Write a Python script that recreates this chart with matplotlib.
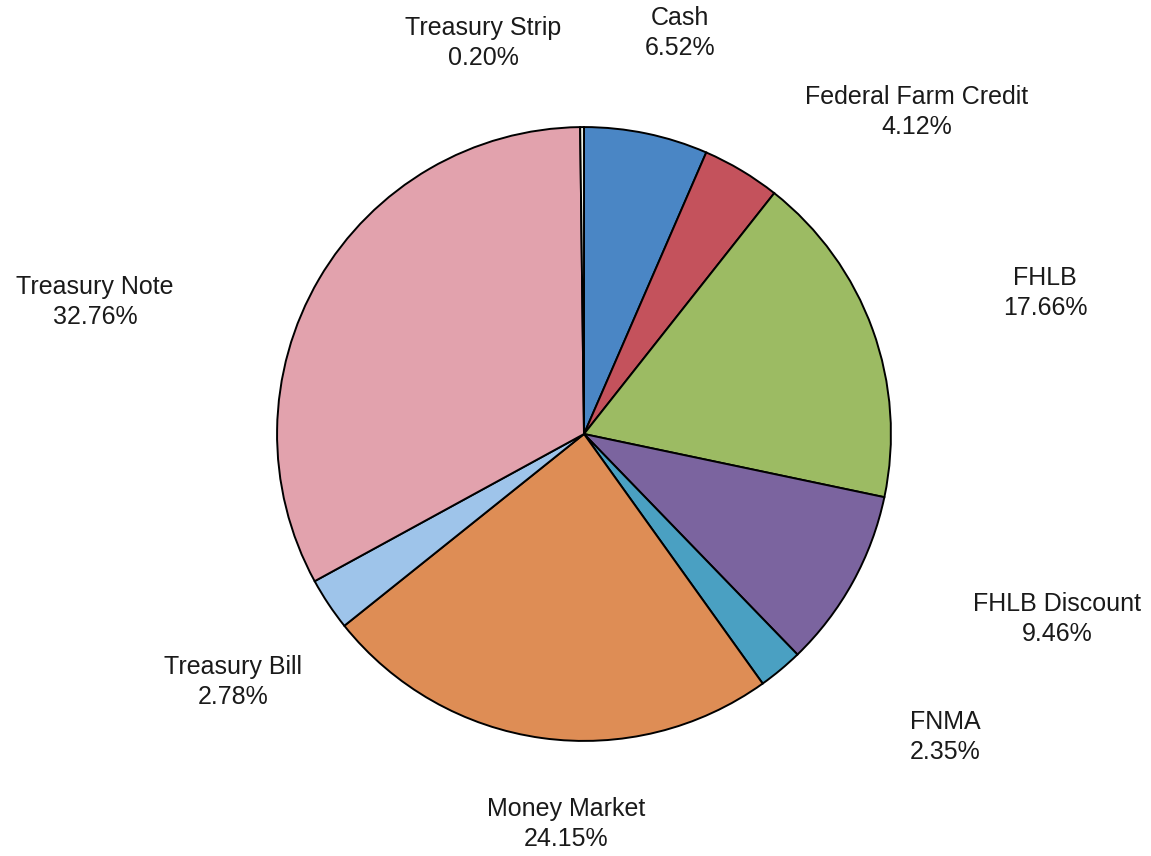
import matplotlib
matplotlib.use("Agg")
import matplotlib.pyplot as plt

# data
labels = ["Cash", "Federal Farm Credit", "FHLB", "FHLB Discount", "FNMA",
          "Money Market", "Treasury Bill", "Treasury Note", "Treasury Strip"]
values = [6.52, 4.12, 17.66, 9.46, 2.35, 24.15, 2.78, 32.76, 0.20]
colors = ["#4a86c5", "#c4525c", "#9cbb63", "#7b649f", "#4aa0c2",
          "#de8d55", "#9ec4ea", "#e2a2ad", "#eef3e6"]

# label centres in pixels (x, y from top)
label_px = [(680, 33), (917, 112), (1045, 293), (1057, 619), (945, 737),
            (566, 824), (233, 682), (95, 302), (483, 43)]

W, H = 1151, 856
plt.rcParams['font.family'] = ['Liberation Sans', 'DejaVu Sans']

fig = plt.figure(figsize=(W / 100, H / 100), dpi=100)
cx, cy, r = 584, 434, 310
ax = fig.add_axes([(cx - r) / W, (H - cy - r) / H, 2 * r / W, 2 * r / H])
ax.pie(values, colors=colors, startangle=90, counterclock=False, radius=1,
       wedgeprops=dict(edgecolor="black", linewidth=1.4))
ax.set_xlim(-1.01, 1.01)
ax.set_ylim(-1.01, 1.01)
ax.set_aspect("equal")
ax.axis("off")

for lab, v, (px, py) in zip(labels, values, label_px):
    fig.text(px / W, 1 - py / H, f"{lab}\n{v:.2f}%", ha="center", va="center",
             fontsize=18, color="#1a1a1a", linespacing=1.35)

fig.savefig("out.png", dpi=100, facecolor="white")
